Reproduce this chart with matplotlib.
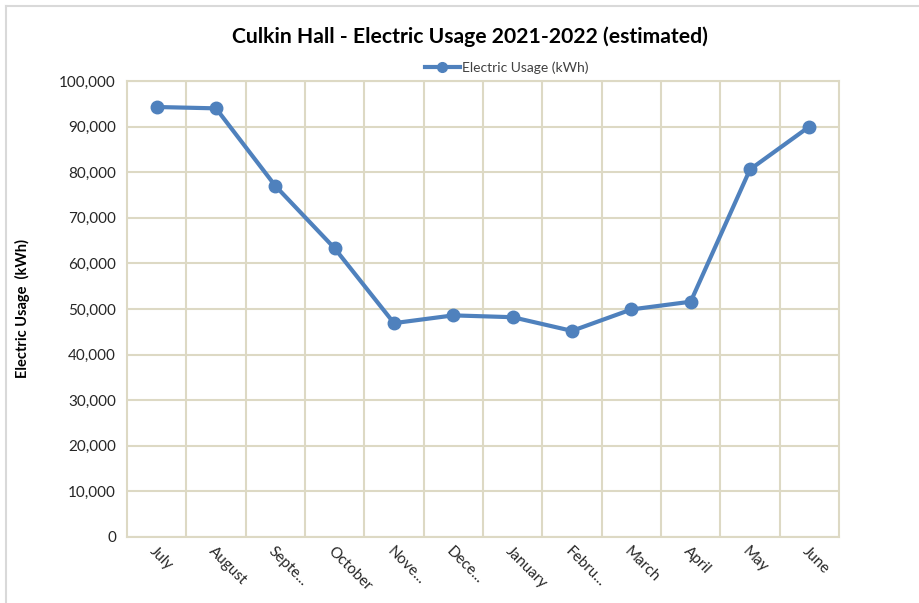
import matplotlib
matplotlib.use("Agg")
import matplotlib.pyplot as plt
from matplotlib.ticker import FuncFormatter, MultipleLocator
from matplotlib.lines import Line2D

plt.rcParams['font.family'] = ['Lato', 'DejaVu Sans']

months = ["July", "August", "Septe...", "October", "Nove...", "Dece...",
          "January", "Febru...", "March", "April", "May", "June"]
usage_kwh = [94300, 94000, 77000, 63300, 46900, 48600,
             48200, 45200, 49900, 51600, 80600, 90000]

title = "Culkin Hall - Electric Usage 2021-2022 (estimated)"
series_label = "Electric Usage (kWh)"
y_label = "Electric Usage  (kWh)"

line_color = "#4F81BD"
grid_color = "#DDD9C4"

W, H = 919, 603
fig = plt.figure(figsize=(W / 100, H / 100), dpi=100)

# outer chart border (top and left edges)
fig.add_artist(Line2D([6 / W, 1], [1 - 6 / H, 1 - 6 / H], color="#D9D9D9", lw=1.5))
fig.add_artist(Line2D([6 / W, 6 / W], [0, 1 - 6 / H], color="#D9D9D9", lw=1.5))

left, right, top, bottom = 127, 839, 81, 537
ax = fig.add_axes([left / W, 1 - bottom / H, (right - left) / W, (bottom - top) / H])

x = list(range(len(months)))
ax.plot(x, usage_kwh, color=line_color, lw=3, marker="o", markersize=9,
        solid_capstyle="round", zorder=3, label=series_label)

ax.set_xlim(-0.5, len(months) - 0.5)
ax.set_ylim(0, 100000)
ax.yaxis.set_major_locator(MultipleLocator(10000))
ax.yaxis.set_major_formatter(FuncFormatter(lambda v, p: f"{int(v):,}"))

# category boundaries carry the gridlines, category centres carry the labels
ax.set_xticks([i + 0.5 for i in x[:-1]], minor=False)
ax.set_xticks(x, minor=True)
ax.set_xticklabels([], minor=False)
ax.set_xticklabels(months, minor=True, rotation=-45, ha="left", va="top",
                   rotation_mode="anchor", fontsize=11, color="#262626")
ax.tick_params(axis="x", which="both", length=0, pad=5)
ax.tick_params(axis="y", length=0, pad=8, labelsize=11, labelcolor="#262626")

ax.grid(True, axis="y", which="major", color=grid_color, lw=1.5)
ax.grid(True, axis="x", which="major", color=grid_color, lw=1.5)
for s in ax.spines.values():
    s.set_color(grid_color)
    s.set_linewidth(1.5)
ax.set_axisbelow(True)

ax.set_ylabel(y_label, fontsize=10.5, fontweight="bold", color="#000000")
ax.yaxis.set_label_coords(-105 / (right - left), 0.5)
ax.yaxis.label.set_position((0, 0.5))
ax.yaxis.set_label_coords(-(left - 22) / (right - left), 0.5)
ax.yaxis.label.set_va("center")

fig.text(470 / W, 1 - 37 / H, title, ha="center", va="center",
         fontsize=15.2, fontweight="bold", color="#000000")

leg = fig.legend(handles=[Line2D([], [], color=line_color, lw=3, marker="o", markersize=7)],
                 labels=[series_label], loc="center", bbox_to_anchor=(507 / W, 1 - 68 / H),
                 frameon=False, fontsize=10, handlelength=2.5, handletextpad=0.2)
for t in leg.get_texts():
    t.set_color("#404040")

fig.savefig("out.png", dpi=100)
